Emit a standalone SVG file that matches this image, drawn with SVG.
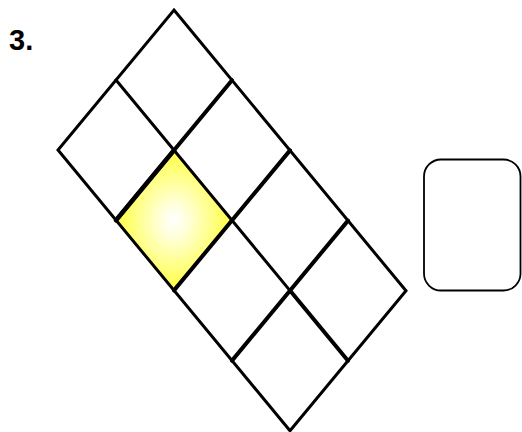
<svg xmlns="http://www.w3.org/2000/svg" width="522" height="432" viewBox="0 0 522 432">
  <style>
    .ln { stroke: #000; fill: none; stroke-linecap: round; stroke-linejoin: miter; }
    .thin { stroke-width: 3; }
    .thick { stroke-width: 4; }
    .label { font-family: "Liberation Sans", Arial, sans-serif; font-weight: bold; font-size: 29px; fill: #000; }
  </style>
  <defs>
    <radialGradient id="glow" cx="50%" cy="50%" r="50%">
      <stop offset="0%" stop-color="#FFFFFF"/>
      <stop offset="25%" stop-color="#FFFFD8"/>
      <stop offset="100%" stop-color="#FFFF40"/>
    </radialGradient>
  </defs>
  <rect width="522" height="432" fill="#fff"/>
  <text id="label" class="label" x="9" y="50">3.</text>
  <g id="highlight">
    <polygon points="174,150.2 232,220.4 174,290.4 116,220.2" fill="url(#glow)"/>
  </g>
  <g id="grid">
    <polygon class="ln thin" points="174,10 406,290.8 290,430.8 58,150"/>
    <line class="ln thin" x1="116" y1="80" x2="290" y2="290.6"/>
    <line class="ln thick" x1="290" y1="290.6" x2="348" y2="360.8"/>
    <line class="ln thick" x1="232" y1="80.2" x2="116" y2="220.2"/>
    <line class="ln thick" x1="290" y1="150.4" x2="174" y2="290.4"/>
    <line class="ln thick" x1="348" y1="220.6" x2="232" y2="360.6"/>
    <line class="ln" stroke-width="4.5" x1="174" y1="150.2" x2="116" y2="220.2"/>
  </g>
  <g id="answer-box">
    <rect x="424" y="159.5" width="96.5" height="131" rx="17" ry="17" fill="#fff" stroke="#000" stroke-width="1.8"/>
  </g>
</svg>
